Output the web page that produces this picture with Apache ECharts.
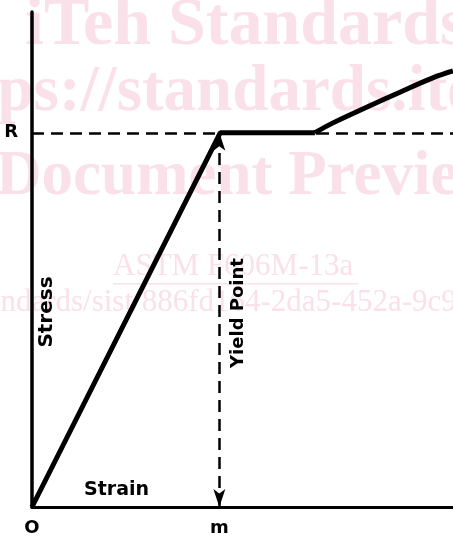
<!DOCTYPE html>
<html>
<head>
<meta charset="utf-8">
<script src="https://cdn.jsdelivr.net/npm/echarts@6/dist/echarts.min.js"></script>
<style>
  html, body { margin: 0; padding: 0; background: #fff; }
  #stressStrain { width: 453px; height: 538px; }
</style>
</head>
<body>
<div id="stressStrain"></div>
<script>
// stress-strain curve (strain 0..100, stress 0..100, arbitrary units)
const strain = [0, 44.7, 67.2, 71.5, 79.6, 87.4, 95.2, 100];
const stress = [0, 75.6, 75.6, 77.6, 80.8, 83.8, 86.7, 88.1];
const yieldStrain = 44.5; // "m"
const yieldStress = 75.6; // "R"
const xTickLabels = ["O", "m"];
const yTickLabels = ["R"];

const ink = "#000";
const wm = "#fae1e9"; // watermark pink
const labelFont = "'DejaVu Sans', sans-serif";
const pts = strain.map((x, i) => [x, stress[i]]);

const Chart = echarts.init(document.getElementById("stressStrain"));
Chart.setOption({
  animation: false,
  backgroundColor: "#fff",
  grid: { left: 32, right: 0, top: 12, bottom: 31 },
  xAxis: {
    type: "value",
    min: 0,
    max: 100,
    splitLine: { show: false },
    axisLine: { lineStyle: { color: ink, width: 3 } },
    axisTick: { show: false },
    axisLabel: {
      customValues: [0, yieldStrain],
      formatter: (v) => (v === 0 ? xTickLabels[0] : xTickLabels[1]),
      color: ink,
      fontFamily: labelFont,
      fontWeight: "bold",
      fontSize: 18,
      margin: 12,
    },
  },
  yAxis: {
    type: "value",
    min: 0,
    max: 100,
    splitLine: { show: false },
    axisLine: { show: true, lineStyle: { color: ink, width: 3.5 } },
    axisTick: { show: false },
    axisLabel: {
      customValues: [yieldStress],
      formatter: () => yTickLabels[0],
      color: ink,
      fontFamily: labelFont,
      fontWeight: "bold",
      fontSize: 18,
      margin: 14,
    },
  },
  graphic: [
    // watermark behind the drawing
    { type: "text", z: -10, left: 25, top: -8, style: { text: "iTeh Standards", fill: wm, font: "bold 68px 'Liberation Serif', serif" } },
    { type: "text", z: -10, left: -82, top: 61, style: { text: "https://standards.iteh.ai", fill: wm, font: "bold 65px 'Liberation Serif', serif" } },
    { type: "text", z: -10, left: -4, top: 146, style: { text: "Document Preview", fill: wm, font: "bold 63px 'Liberation Serif', serif" } },
    { type: "text", z: -10, left: 113, top: 251, style: { text: "ASTM F606M-13a", fill: wm, font: "31px 'Liberation Serif', serif" } },
    { type: "rect", z: -10, shape: { x: 113, y: 283, width: 245, height: 1.5 }, style: { fill: wm } },
    { type: "text", z: -10, left: -34, top: 287, style: { text: "standards/sist/886fd164-2da5-452a-9c9c", fill: wm, font: "31px 'Liberation Serif', serif" } },
    // axis captions
    { type: "text", left: 84, top: 481, style: { text: "Strain", fill: ink, font: "bold 19px 'DejaVu Sans', sans-serif" } },
    { type: "text", x: 47, y: 312, rotation: Math.PI / 2, style: { text: "Stress", fill: ink, font: "bold 20px 'DejaVu Sans', sans-serif", align: "center", verticalAlign: "middle" } },
  ],
  series: [
    {
      // elastic part and yield plateau
      type: "line",
      data: pts.slice(0, 3),
      showSymbol: false,
      lineStyle: { color: ink, width: 5 },
      z: 5,
      markLine: {
        silent: true,
        animation: false,
        symbol: "none",
        lineStyle: { color: ink, width: 2.5, type: [12, 7] },
        data: [
          [
            { coord: [0, yieldStress], symbol: "none" },
            { coord: [100, yieldStress], symbol: "none" },
          ],
          [
            { coord: [yieldStrain, 0], symbol: "arrow", symbolSize: [9, 18] },
            { coord: [yieldStrain, yieldStress], symbol: "arrow", symbolSize: [9, 18] },
          ],
        ],
        label: { show: false },
      },
    },
    {
      // strain hardening
      type: "line",
      data: pts.slice(2),
      smooth: 0.4,
      showSymbol: false,
      lineStyle: { color: ink, width: 5 },
      z: 5,
    },
  ],
});
// "Yield Point" caption next to the dashed ordinate
const p = Chart.convertToPixel({ gridIndex: 0 }, [yieldStrain, 0]);
Chart.setOption({
  graphic: [
    {
      type: "text",
      id: "yieldLabel",
      x: p[0] + 19,
      y: 313,
      rotation: Math.PI / 2,
      style: { text: "Yield Point", fill: ink, font: "bold 18px 'DejaVu Sans', sans-serif", align: "center", verticalAlign: "middle" },
    },
  ],
});
</script>
</body>
</html>
